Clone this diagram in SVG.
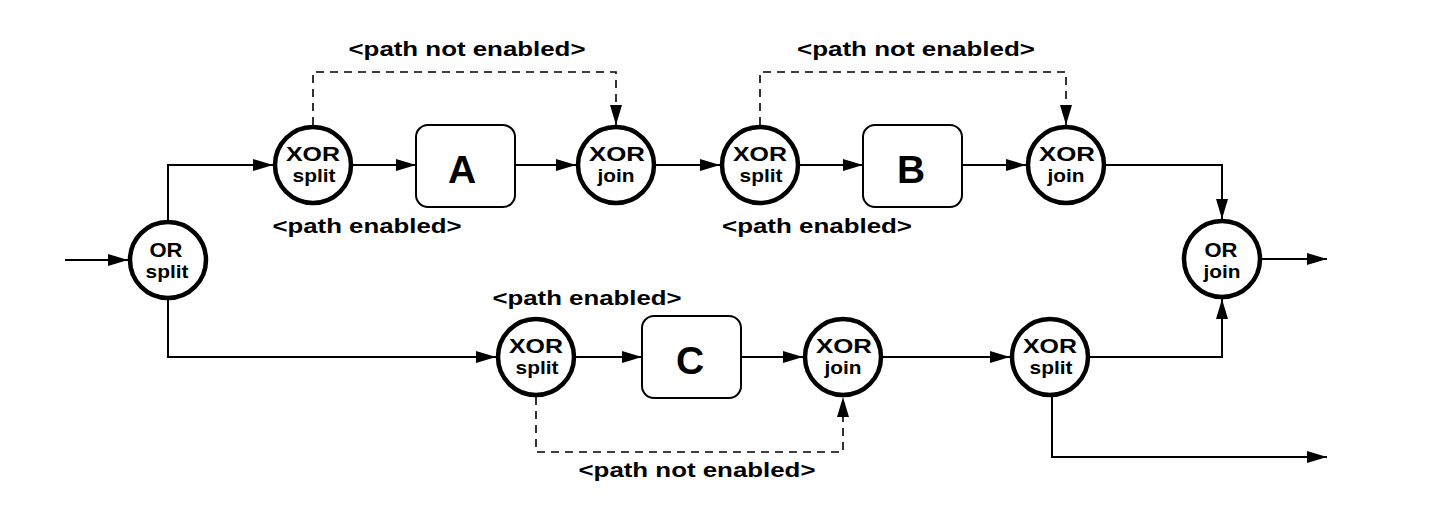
<svg xmlns="http://www.w3.org/2000/svg" width="1430" height="518" viewBox="0 0 1430 518">
<style>
.node circle{fill:#fff;stroke:#000;stroke-width:4.5}
.node rect{fill:#fff;stroke:#000;stroke-width:2}
text{font-family:"Liberation Sans",Arial,sans-serif;font-weight:bold;fill:#000;text-anchor:middle}
.t1{font-size:21px}
.t2{font-size:19px}
.big{font-size:39px}
.lbl{font-size:21px}
.edge{fill:none;stroke:#000;stroke-width:2;marker-end:url(#arr)}
.dash{fill:none;stroke:#000;stroke-width:1.6;stroke-dasharray:8 6;marker-end:url(#arr)}
</style>
<defs>
<marker id="arr" viewBox="0 0 20 12" refX="20" refY="6" markerWidth="20" markerHeight="12" markerUnits="userSpaceOnUse" orient="auto">
<path d="M0,0 L20,6 L0,12 z" fill="#000"/>
</marker>
</defs>
<rect width="1430" height="518" fill="#fff"/>
<g id="connectors">
<path class="edge" d="M65,260 H128"/>
<path class="edge" d="M168,220 V165 H273"/>
<path class="edge" d="M353,165 H416"/>
<path class="edge" d="M515,165 H576"/>
<path class="edge" d="M656,165 H720"/>
<path class="edge" d="M800,165 H863"/>
<path class="edge" d="M962,165 H1026"/>
<path class="edge" d="M1106,165 H1222 V219"/>
<path class="edge" d="M1262,259 H1327"/>
<path class="edge" d="M168,300 V357 H496"/>
<path class="edge" d="M576,357 H642"/>
<path class="edge" d="M741,357 H803"/>
<path class="edge" d="M883,357 H1010"/>
<path class="edge" d="M1090,357 H1222 V299"/>
<path class="edge" d="M1052,397 V457 H1327"/>
<path class="dash" d="M313,125 V72 H616 V125"/>
<path class="dash" d="M760,125 V72 H1066 V125"/>
<path class="dash" d="M536,397 V452 H843 V397"/>
</g>
<g id="labels">
<text class="lbl" x="467" y="56" textLength="237" lengthAdjust="spacingAndGlyphs">&lt;path not enabled&gt;</text>
<text class="lbl" x="916" y="56" textLength="238" lengthAdjust="spacingAndGlyphs">&lt;path not enabled&gt;</text>
<text class="lbl" x="367" y="233" textLength="189" lengthAdjust="spacingAndGlyphs">&lt;path enabled&gt;</text>
<text class="lbl" x="817" y="233" textLength="190" lengthAdjust="spacingAndGlyphs">&lt;path enabled&gt;</text>
<text class="lbl" x="587" y="305" textLength="189" lengthAdjust="spacingAndGlyphs">&lt;path enabled&gt;</text>
<text class="lbl" x="697" y="477" textLength="237" lengthAdjust="spacingAndGlyphs">&lt;path not enabled&gt;</text>
</g>
<g id="or-split" class="node"><circle cx="168" cy="260" r="38"/><text><tspan class="t1" x="166" y="257" textLength="33" lengthAdjust="spacingAndGlyphs">OR</tspan><tspan class="t2" x="167" y="278" textLength="43" lengthAdjust="spacingAndGlyphs">split</tspan></text></g>
<g id="xor-split-1" class="node"><circle cx="313" cy="165" r="38"/><text><tspan class="t1" x="313" y="161" textLength="54" lengthAdjust="spacingAndGlyphs">XOR</tspan><tspan class="t2" x="314" y="182" textLength="43" lengthAdjust="spacingAndGlyphs">split</tspan></text></g>
<g id="task-a" class="node"><rect x="416" y="125" width="99" height="82" rx="12"/><text class="big" x="462" y="183">A</text></g>
<g id="xor-join-1" class="node"><circle cx="616" cy="165" r="38"/><text><tspan class="t1" x="617" y="161" textLength="56" lengthAdjust="spacingAndGlyphs">XOR</tspan><tspan class="t2" x="616" y="182" textLength="37" lengthAdjust="spacingAndGlyphs">join</tspan></text></g>
<g id="xor-split-2" class="node"><circle cx="760" cy="165" r="38"/><text><tspan class="t1" x="760" y="161" textLength="54" lengthAdjust="spacingAndGlyphs">XOR</tspan><tspan class="t2" x="761" y="182" textLength="43" lengthAdjust="spacingAndGlyphs">split</tspan></text></g>
<g id="task-b" class="node"><rect x="863" y="125" width="99" height="82" rx="12"/><text class="big" x="911" y="183">B</text></g>
<g id="xor-join-2" class="node"><circle cx="1066" cy="165" r="38"/><text><tspan class="t1" x="1067" y="161" textLength="56" lengthAdjust="spacingAndGlyphs">XOR</tspan><tspan class="t2" x="1066" y="182" textLength="37" lengthAdjust="spacingAndGlyphs">join</tspan></text></g>
<g id="or-join" class="node"><circle cx="1222" cy="259" r="38"/><text><tspan class="t1" x="1221" y="257" textLength="33" lengthAdjust="spacingAndGlyphs">OR</tspan><tspan class="t2" x="1222" y="278" textLength="37" lengthAdjust="spacingAndGlyphs">join</tspan></text></g>
<g id="xor-split-c" class="node"><circle cx="536" cy="357" r="38"/><text><tspan class="t1" x="536" y="353" textLength="54" lengthAdjust="spacingAndGlyphs">XOR</tspan><tspan class="t2" x="537" y="374" textLength="43" lengthAdjust="spacingAndGlyphs">split</tspan></text></g>
<g id="task-c" class="node"><rect x="642" y="316" width="99" height="82" rx="12"/><text class="big" x="690" y="374">C</text></g>
<g id="xor-join-c" class="node"><circle cx="843" cy="357" r="38"/><text><tspan class="t1" x="844" y="353" textLength="56" lengthAdjust="spacingAndGlyphs">XOR</tspan><tspan class="t2" x="843" y="374" textLength="37" lengthAdjust="spacingAndGlyphs">join</tspan></text></g>
<g id="xor-split-3" class="node"><circle cx="1050" cy="357" r="38"/><text><tspan class="t1" x="1050" y="353" textLength="54" lengthAdjust="spacingAndGlyphs">XOR</tspan><tspan class="t2" x="1051" y="374" textLength="43" lengthAdjust="spacingAndGlyphs">split</tspan></text></g>
</svg>
